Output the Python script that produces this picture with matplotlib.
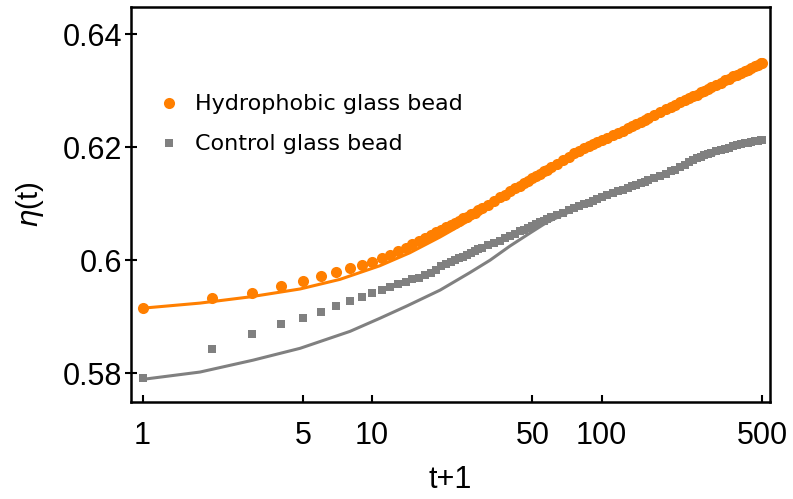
import matplotlib
matplotlib.use("Agg")
import matplotlib.pyplot as plt
from matplotlib import font_manager

# t+1 values of the measurements
t_obs = [1, 2, 3, 4, 5, 6, 7, 8, 9, 10, 11, 12,
         13, 14, 15, 16, 17, 18, 19, 20, 21, 22, 23, 24, 25, 26, 27, 28, 29, 30,
         32, 34, 36, 38, 40, 42, 44, 46, 48, 50, 52, 54, 56, 58, 60,
         64, 68, 72, 76, 80, 84, 88, 92, 96, 100,
         106, 112, 118, 124, 130, 136, 142, 148, 154, 160,
         170, 180, 190, 200, 210, 220, 230, 240, 250, 260, 270, 280, 290, 300,
         315, 330, 345, 360, 375, 390, 405, 420, 435, 450, 465, 480, 495, 500]

eta_hydrophobic = [0.5915, 0.5933, 0.5942, 0.5954, 0.5963, 0.5972, 0.5979, 0.5986, 0.5991, 0.5996, 0.6003, 0.6010,
                   0.6016, 0.6022, 0.6028, 0.6034, 0.6039, 0.6044, 0.6049, 0.6054, 0.6058, 0.6062, 0.6066, 0.6070,
                   0.6074, 0.6077, 0.6081, 0.6084, 0.6088, 0.6092,
                   0.6098, 0.6105, 0.6111, 0.6116, 0.6122, 0.6127, 0.6132, 0.6136, 0.6140, 0.6145, 0.6149, 0.6153,
                   0.6157, 0.6160, 0.6164,
                   0.6171, 0.6177, 0.6183, 0.6189, 0.6194, 0.6198, 0.6202, 0.6206, 0.6209, 0.6212,
                   0.6217, 0.6221, 0.6225, 0.6229, 0.6233, 0.6237, 0.6241, 0.6245, 0.6248, 0.6252,
                   0.6257, 0.6262, 0.6267, 0.6271, 0.6275, 0.6279, 0.6283, 0.6287, 0.6290, 0.6293, 0.6297, 0.6300,
                   0.6303, 0.6306,
                   0.6310, 0.6314, 0.6318, 0.6321, 0.6325, 0.6328, 0.6331, 0.6334, 0.6337, 0.6340, 0.6343, 0.6345,
                   0.6348, 0.6349]

eta_control = [0.5791, 0.5842, 0.5869, 0.5887, 0.5897, 0.5908, 0.5919, 0.5927, 0.5935, 0.5942, 0.5947, 0.5952,
               0.5957, 0.5962, 0.5966, 0.5969, 0.5974, 0.5978, 0.5983, 0.5989, 0.5994, 0.5997, 0.6000, 0.6003,
               0.6005, 0.6009, 0.6012, 0.6016, 0.6019, 0.6022,
               0.6026, 0.6030, 0.6034, 0.6039, 0.6043, 0.6047, 0.6051, 0.6054, 0.6057, 0.6060, 0.6064, 0.6067,
               0.6070, 0.6073, 0.6076,
               0.6080, 0.6084, 0.6088, 0.6092, 0.6096, 0.6099, 0.6102, 0.6105, 0.6108, 0.6111,
               0.6115, 0.6119, 0.6122, 0.6125, 0.6128, 0.6131, 0.6133, 0.6136, 0.6138, 0.6141,
               0.6145, 0.6149, 0.6153, 0.6157, 0.6160, 0.6164, 0.6168, 0.6173, 0.6178, 0.6181, 0.6183, 0.6186,
               0.6188, 0.6190,
               0.6193, 0.6195, 0.6197, 0.6199, 0.6202, 0.6204, 0.6206, 0.6207, 0.6208, 0.6209, 0.6210, 0.6211,
               0.6212, 0.6212]

# fitted curves
fit_t_hydrophobic = [1, 1.78, 2.94, 4.86, 7.25, 10.8, 14.6, 19.8, 26.7, 36.1, 48.8, 65.9, 98.5, 133, 268, 500]
fit_hydrophobic = [0.5915, 0.5924, 0.5935, 0.5949, 0.5966, 0.5990, 0.6013, 0.6041, 0.6071, 0.6105,
                   0.6138, 0.6170, 0.6209, 0.6234, 0.6293, 0.6347]

fit_t_control = [1, 1.78, 3.03, 4.86, 8.02, 10.8, 14.2, 19.8, 26.7, 32.7, 39.9, 48.8, 57.8, 80.6, 133, 219,
                 364, 500]
fit_control = [0.5789, 0.5802, 0.5823, 0.5844, 0.5874, 0.5897, 0.5919, 0.5947, 0.5978, 0.6000, 0.6025,
               0.6048, 0.6067, 0.6094, 0.6131, 0.6165, 0.6198, 0.6214]

x_ticks = [1, 5, 10, 50, 100, 500]
y_ticks = [0.58, 0.60, 0.62, 0.64]
y_tick_labels = ["0.58", "0.6", "0.62", "0.64"]

orange = "#ff7f00"
gray = "#808080"

installed = {f.name for f in font_manager.fontManager.ttflist}
tick_font = "Liberation Sans Narrow" if "Liberation Sans Narrow" in installed else "Liberation Sans"

fig = plt.figure(figsize=(7.93, 4.99), dpi=100)
ax = fig.add_axes([0.1652, 0.1944, 0.8058, 0.7916])

ax.plot(fit_t_hydrophobic, fit_hydrophobic, color=orange, lw=2.2, zorder=2)
ax.plot(fit_t_control, fit_control, color=gray, lw=2.2, zorder=2)
h1, = ax.plot(t_obs, eta_hydrophobic, "o", color=orange, ms=8.0, mew=0, zorder=3)
h2, = ax.plot(t_obs, eta_control, "s", color=gray, ms=5.8, mew=0, zorder=3)

ax.set_xscale("log")
ax.set_xlim(0.891, 542)
ax.set_ylim(0.5749, 0.6448)

ax.set_xticks(x_ticks)
ax.set_xticklabels([str(v) for v in x_ticks])
ax.xaxis.set_minor_locator(matplotlib.ticker.NullLocator())
ax.set_yticks(y_ticks)
ax.set_yticklabels(y_tick_labels)

ax.tick_params(axis="x", direction="in", length=5, width=1.5, pad=14,
               labelsize=22, top=False)
ax.tick_params(axis="y", direction="inout", length=9, width=1.5, pad=2,
               labelsize=22, right=False)
for lab in ax.get_xticklabels() + ax.get_yticklabels():
    lab.set_family(tick_font)

for sp in ax.spines.values():
    sp.set_linewidth(1.8)

ax.set_xlabel("t+1", fontsize=22, family=tick_font, labelpad=10)
ax.set_ylabel(r"$\eta$(t)", fontsize=21, family=tick_font, labelpad=12)

ax.legend([h1, h2], ["Hydrophobic glass bead", "Control glass bead"],
          loc="upper left", bbox_to_anchor=(0.048, 0.779), frameon=False,
          prop={"family": "DejaVu Sans", "size": 16}, handlelength=0.7,
          handletextpad=0.8, labelspacing=0.9, borderpad=0, borderaxespad=0)

fig.savefig("out.png", dpi=100)
